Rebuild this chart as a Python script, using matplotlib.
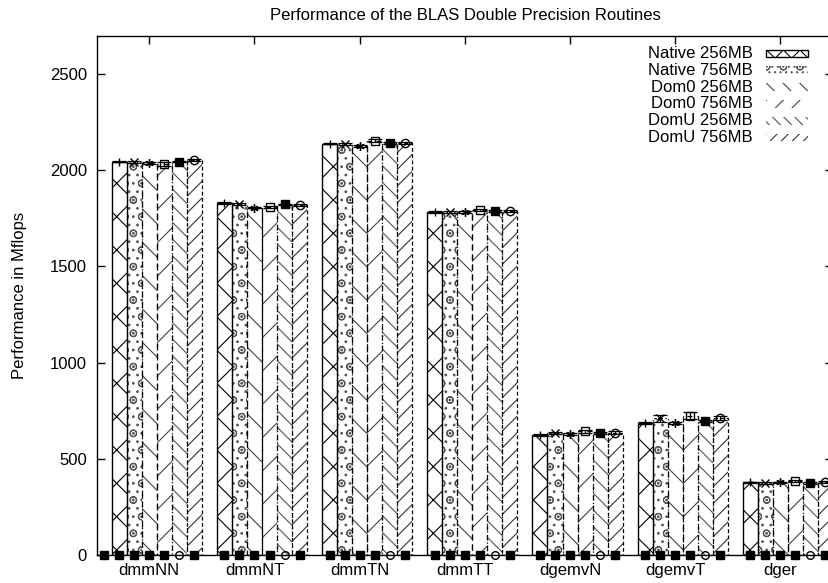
import numpy as np
import matplotlib
matplotlib.use("Agg")
from matplotlib import pyplot as plt
from matplotlib.patches import Rectangle

plt.rcParams['font.family'] = ['Liberation Sans', 'DejaVu Sans']
plt.rcParams['font.size'] = 12
plt.rcParams['hatch.linewidth'] = 0.8

categories = ['dmmNN', 'dmmNT', 'dmmTN', 'dmmTT', 'dgemvN', 'dgemvT', 'dger']
series_names = ['Native 256MB', 'Native 756MB', 'Dom0 256MB',
                'Dom0 756MB', 'DomU 256MB', 'DomU 756MB']

native_256 = [2045, 1830, 2138, 1782, 626, 684, 378]
native_756 = [2042, 1825, 2136, 1782, 634, 710, 376]
dom0_256 = [2035, 1806, 2126, 1784, 630, 686, 377]
dom0_756 = [2032, 1810, 2153, 1792, 644, 725, 383]
domu_256 = [2045, 1822, 2142, 1788, 634, 697, 375]
domu_756 = [2052, 1818, 2140, 1788, 636, 710, 378]

native_256_err = [4, 4, 4, 4, 5, 5, 4]
native_756_err = [5, 5, 6, 4, 6, 18, 5]
dom0_256_err = [5, 4, 5, 4, 5, 5, 4]
dom0_756_err = [8, 6, 8, 6, 8, 20, 6]
domu_256_err = [4, 4, 5, 4, 5, 6, 4]
domu_756_err = [6, 5, 6, 5, 6, 10, 6]

values = [native_256, native_756, dom0_256, dom0_756, domu_256, domu_756]
errors = [native_256_err, native_756_err, dom0_256_err,
          dom0_756_err, domu_256_err, domu_756_err]

hatches = ['x', 'o..', '\\', '/', '\\\\', '//']
key_hatches = ['xx', 'o...', '\\\\', '//', '\\\\\\', '///']
hatch_colors = ['black', '#555555', '#444444', '#444444', '#555555', '#333333']
edge_styles = ['-', (0, (1, 2)), (0, (5, 3)), (0, (4, 4)), (0, (1, 2)), (0, (3, 2))]
top_markers = ['+', 'x', (6, 2, 0), 's', 's', 'o']
top_fill = ['black', 'black', 'black', 'none', 'black', 'none']
bottom_markers = ['s', 's', 's', 's', 'o', 's']
bottom_fill = ['black', 'black', 'black', 'black', 'none', 'black']

W, H = 829, 583
fig = plt.figure(figsize=(W / 100, H / 100), dpi=100)
ax = fig.add_axes([96.7 / W, 28 / H, (833 - 96.7) / W, (555 - 35.5) / H])

n = len(series_names)
w = 1.0 / (n + 1)
x = np.arange(len(categories))

for j in range(n):
    xs = x + (j - 2) * w
    ax.bar(xs, values[j], width=w, facecolor='white', edgecolor=hatch_colors[j],
           hatch=hatches[j], linewidth=0, zorder=2)
    ax.bar(xs, values[j], width=w, fill=False, edgecolor='black',
           linestyle=edge_styles[j], linewidth=1.0 if j == 0 else 0.9, zorder=3)
    ax.errorbar(xs, values[j], yerr=errors[j], fmt='none', ecolor='black',
                elinewidth=0.9, capsize=5.2, capthick=0.9, zorder=4)
    ax.plot(xs, values[j], linestyle='none', marker=top_markers[j],
            markersize=6, markerfacecolor=top_fill[j], markeredgecolor='black',
            markeredgewidth=1.0, zorder=5)
    # markers sitting on the zero line
    ax.plot(xs, np.zeros(len(xs)), linestyle='none', marker=bottom_markers[j],
            markersize=5.5, markerfacecolor=bottom_fill[j], markeredgecolor='black',
            markeredgewidth=1.0, zorder=6, clip_on=False)

ax.plot([-3 * w], [0], linestyle='none', marker='s', markersize=5.5,
        color='black', zorder=6, clip_on=False)

ax.set_xlim(-0.5, 6.5)
ax.set_ylim(0, 2700)
ax.set_xticks(x)
ax.set_xticklabels(categories)
ax.set_yticks([0, 500, 1000, 1500, 2000, 2500])
ax.tick_params(axis='x', direction='in', top=True, bottom=False, length=5.5,
               width=1, pad=6)
ax.tick_params(axis='y', direction='in', left=True, right=True, length=5.5,
               width=1, pad=7)
for s in ax.spines.values():
    s.set_linewidth(1.0)

# key: right-aligned text followed by a pattern swatch
for j in range(n):
    yc = 53.5 + 16.8 * j
    fig.text(753 / W, 1 - yc / H, series_names[j], ha='right', va='center')
    fig.add_artist(Rectangle((766 / W, 1 - (yc + 3.8) / H), 42 / W, 7.6 / H,
                             transform=fig.transFigure, facecolor='white',
                             edgecolor=hatch_colors[j], hatch=key_hatches[j],
                             linewidth=0))
    if j == 0:
        fig.add_artist(Rectangle((766 / W, 1 - (yc + 3.8) / H), 42 / W, 7.6 / H,
                                 transform=fig.transFigure, fill=False,
                                 edgecolor='black', linewidth=1.0))

fig.text(465 / W, 1 - 16 / H, 'Performance of the BLAS Double Precision Routines',
         ha='center', va='center')
fig.text(19.5 / W, 1 - 295 / H, 'Performance in Mflops', rotation=90,
         ha='center', va='center')

fig.savefig('out.png', dpi=100)
